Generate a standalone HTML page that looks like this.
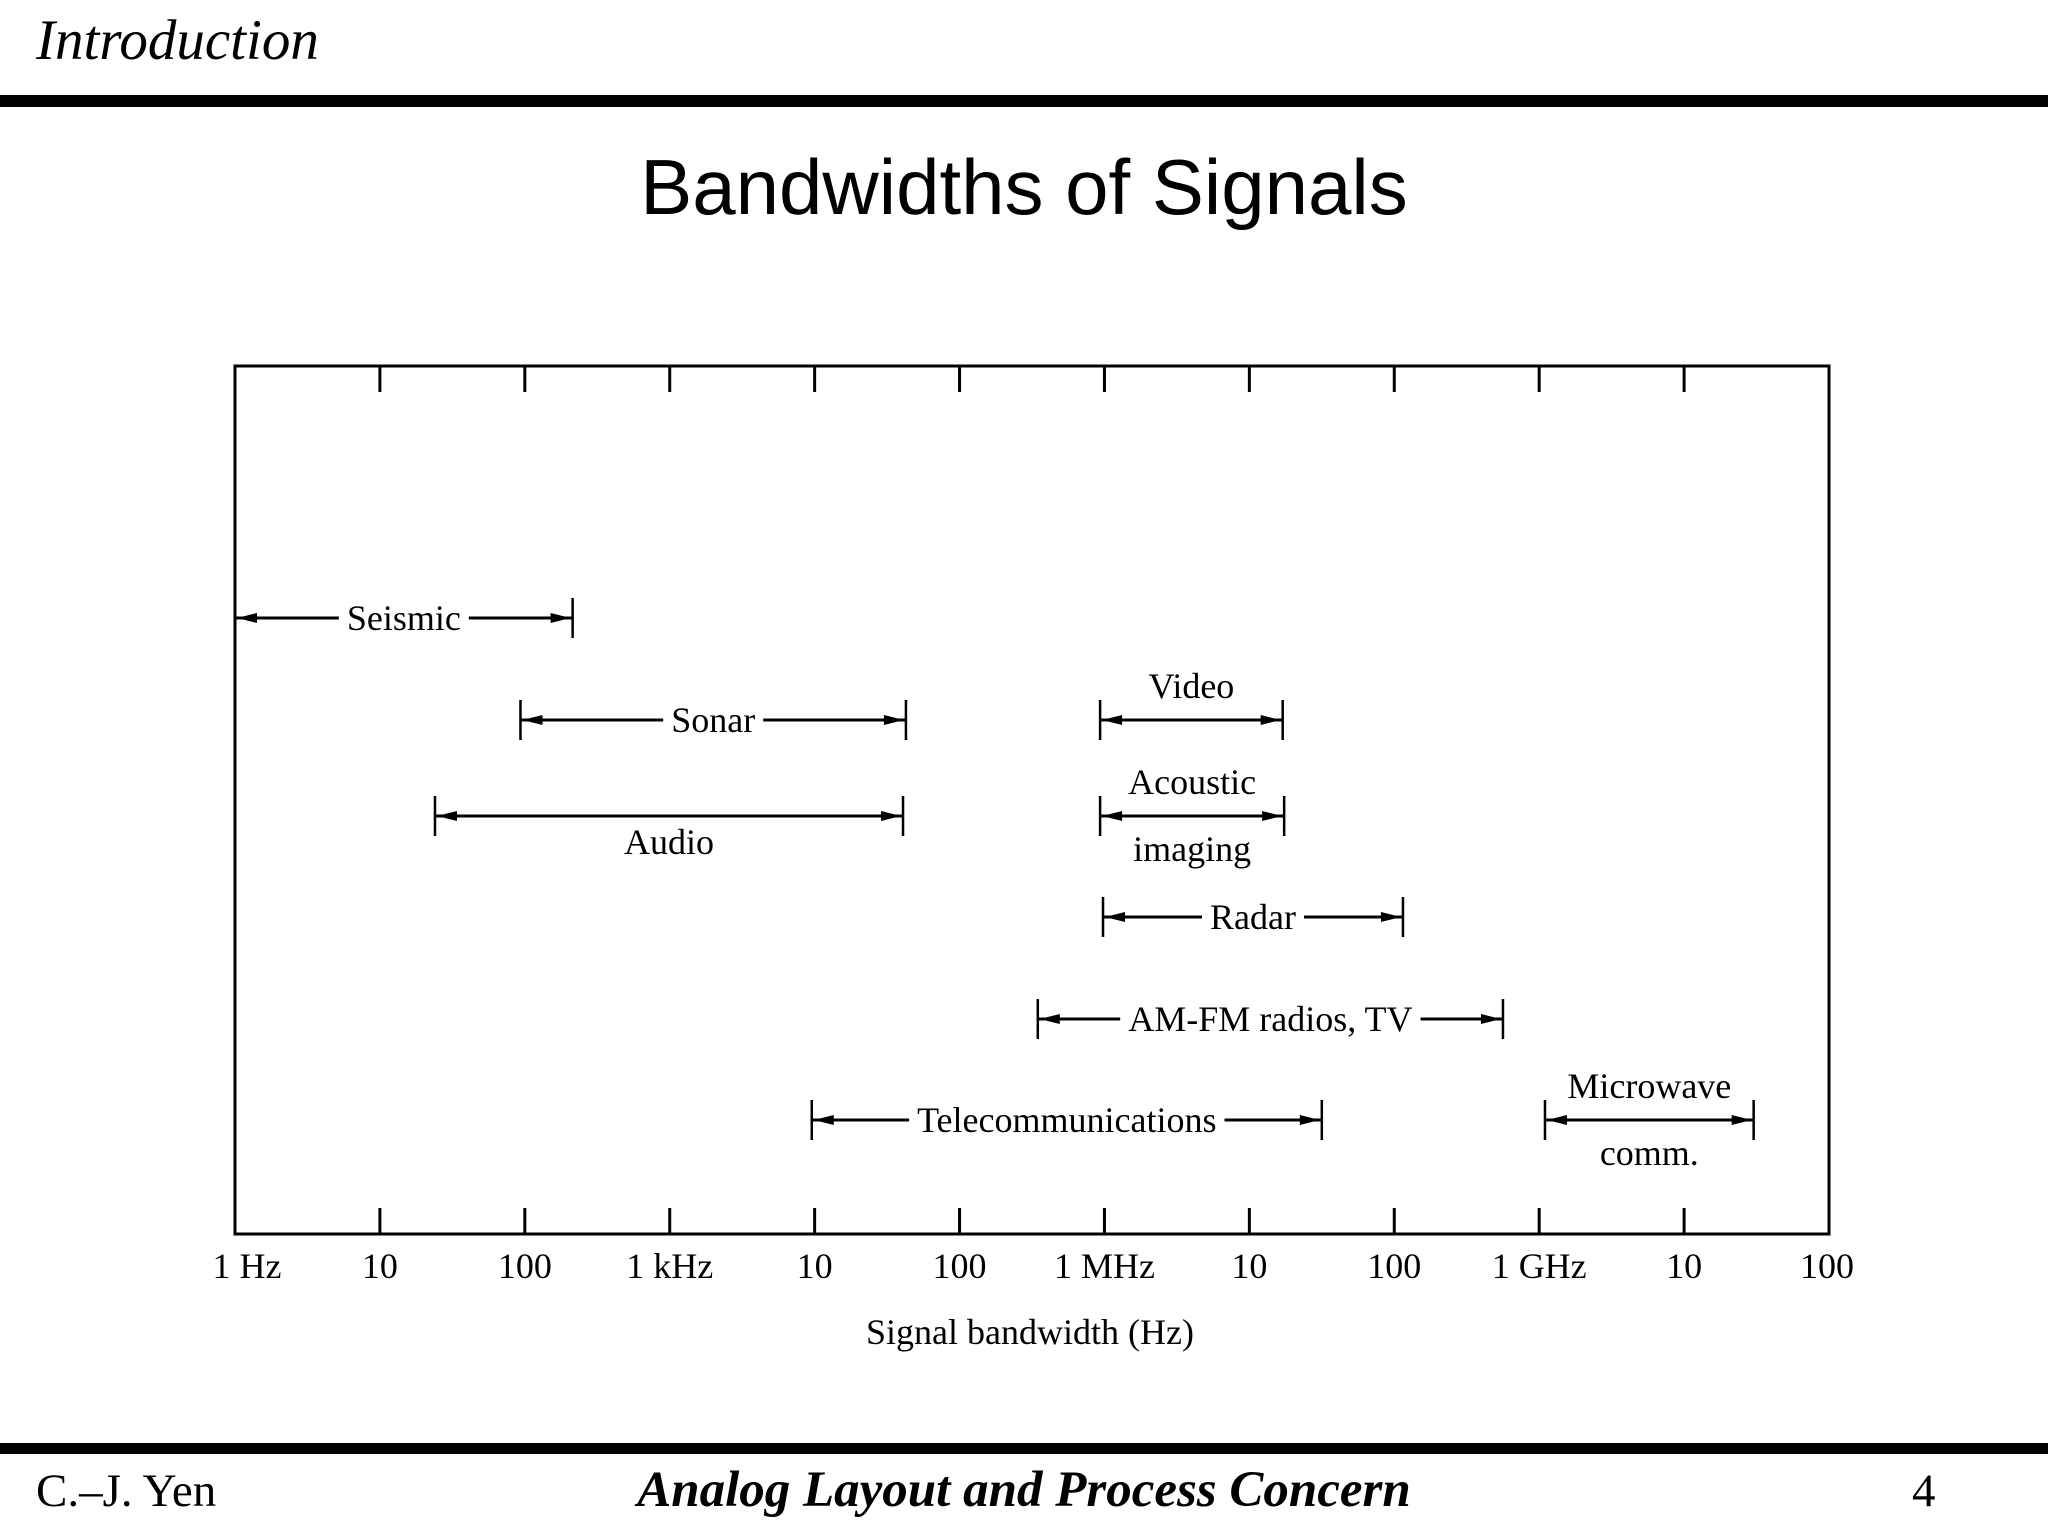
<!DOCTYPE html>
<html><head><meta charset="utf-8"><style>
html,body{margin:0;padding:0;background:#fff;}
#root{position:relative;width:2048px;height:1536px;overflow:hidden;background:#fff;}
.hdr{position:absolute;left:36px;top:8px;font:italic 57px "Liberation Serif",serif;color:#000;}
.bar{position:absolute;left:0;width:2048px;background:#000;}
.title{position:absolute;left:0;width:2048px;top:142px;text-align:center;font:78px "Liberation Sans",sans-serif;color:#000;}
.ft{position:absolute;top:1464px;font:47px "Liberation Serif",serif;color:#000;}
</style></head><body>
<div id="root">
<div class="hdr">Introduction</div>
<div class="bar" style="top:95px;height:12px"></div>
<div class="title">Bandwidths of Signals</div>
<svg id="chart" width="2048" height="1536" style="position:absolute;left:0;top:0"></svg>
<div class="bar" style="top:1443px;height:11px"></div>
<div class="ft" style="left:36px">C.–J. Yen</div>
<div class="ft" style="left:0;width:2048px;text-align:center;font-style:italic;font-weight:bold;font-size:51px;top:1461px">Analog Layout and Process Concern</div>
<div class="ft" style="left:1912px">4</div>
</div>
<script>
const tickLabels=["1 Hz","10","100","1 kHz","10","100","1 MHz","10","100","1 GHz","10","100"];
const names=["Seismic","Sonar","Audio","Video","Acoustic","Radar","AM-FM radios, TV","Telecommunications","Microwave"];
const lows=[0,1.97,1.38,5.97,5.97,5.99,5.54,3.98,9.04];
const highs=[2.33,4.63,4.61,7.23,7.24,8.06,8.75,7.5,10.48];
const rows=[0,1,2,1,2,3,4,5,5];
const subLabels=["","","","","imaging","","","","comm."];
const labelPos=["mid","mid","below","above","above","mid","mid","mid","above"];
const rowY=[618,720,816,917,1019,1120];
const L=235,R=1829,T=366,B=1234;
const x=v=>L+(R-L)*v/11;
const svg=document.getElementById('chart');
const NS='http://www.w3.org/2000/svg';
function mk(t,a){const e=document.createElementNS(NS,t);for(const k in a)e.setAttribute(k,a[k]);svg.appendChild(e);return e;}
const fr=mk('rect',{x:L,y:T,width:R-L,height:B-T,fill:'none',stroke:'#000','stroke-width':3});


tickLabels.forEach((t,i)=>{
 const xx=x(i);
 if(i>0&&i<11){
 const a=mk('line',{x1:xx,y1:T,x2:xx,y2:T+26,stroke:'#000','stroke-width':3});
 
 
 const b=mk('line',{x1:xx,y1:B-26,x2:xx,y2:B,stroke:'#000','stroke-width':3});
 
 }
 const tx=mk('text',{x:xx+(i==0?12:(i==11?-2:0)),y:1278,'text-anchor':'middle','font-family':'Liberation Serif, serif','font-size':36});
 tx.textContent=t;
 
 
});
const at=mk('text',{x:1030,y:1344,'text-anchor':'middle','font-family':'Liberation Serif, serif','font-size':36});
at.textContent='Signal bandwidth (Hz)';


names.forEach((n,i)=>{
 const x1=x(lows[i]),x2=x(highs[i]),y=rowY[rows[i]];
 const g=document.createElementNS(NS,'g');svg.appendChild(g);
 
 
 const add=(t,a)=>{const e=document.createElementNS(NS,t);for(const k in a)e.setAttribute(k,a[k]);g.appendChild(e);return e;};
 add('line',{x1:x1,y1:y,x2:x2,y2:y,stroke:'#000','stroke-width':3});
 if(lows[i]>0.01)add('line',{x1:x1,y1:y-20,x2:x1,y2:y+20,stroke:'#000','stroke-width':2.5});
 add('line',{x1:x2,y1:y-20,x2:x2,y2:y+20,stroke:'#000','stroke-width':2.5});
 add('polygon',{points:`${x1+2},${y} ${x1+22},${y-5} ${x1+22},${y+5}`,fill:'#000'});
 add('polygon',{points:`${x2-2},${y} ${x2-22},${y-5} ${x2-22},${y+5}`,fill:'#000'});
 const cx=(x1+x2)/2;
 const p=labelPos[i];
 const ty=p=='mid'?y+12:(p=='above'?y-22:y+38);
 const tx=add('text',{x:cx,y:ty,'text-anchor':'middle','font-family':'Liberation Serif, serif','font-size':36});
 tx.textContent=n;
 if(p=='mid'){const w=tx.getComputedTextLength();const r=document.createElementNS(NS,'rect');
  r.setAttribute('x',cx-w/2-8);r.setAttribute('y',y-6);r.setAttribute('width',w+16);r.setAttribute('height',12);r.setAttribute('fill','#fff');g.insertBefore(r,tx);}
 if(subLabels[i]){const s=add('text',{x:cx,y:y+45,'text-anchor':'middle','font-family':'Liberation Serif, serif','font-size':36});s.textContent=subLabels[i];}
});
</script>
</body></html>
